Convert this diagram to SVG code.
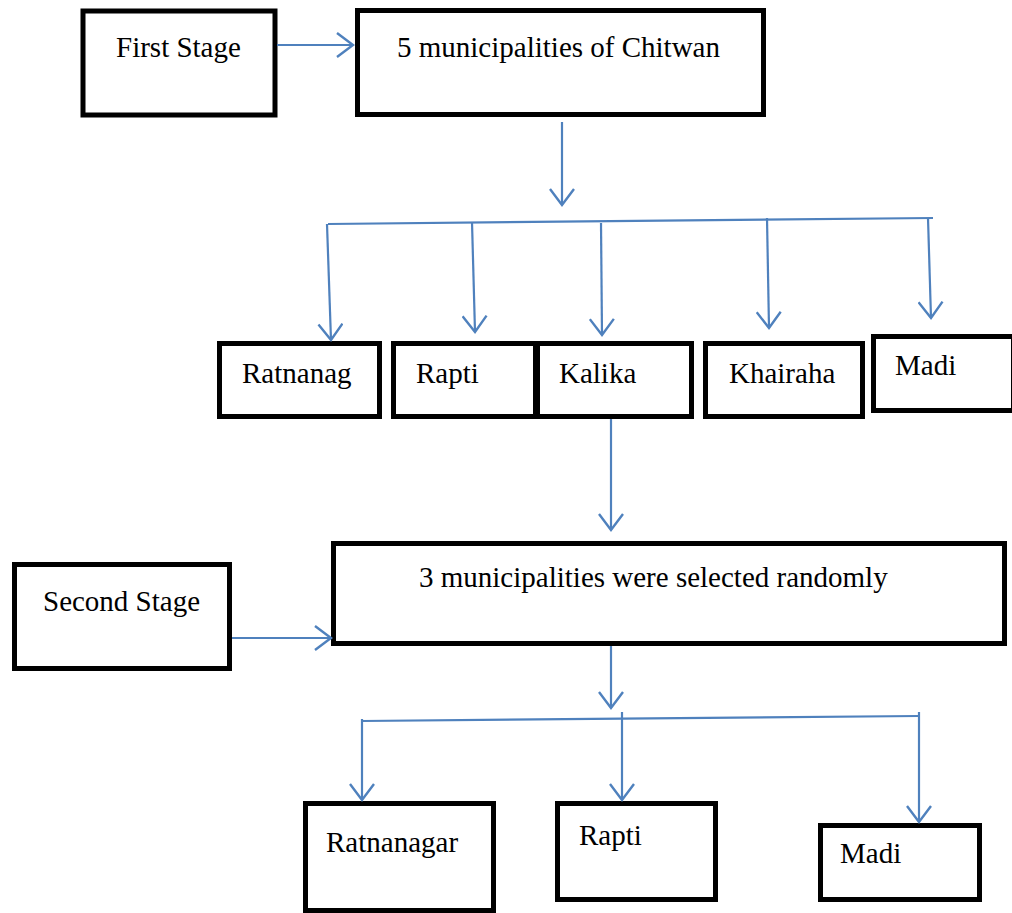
<svg xmlns="http://www.w3.org/2000/svg" width="1012" height="913" viewBox="0 0 1012 913">
<style>
.box{fill:#fff;stroke:#000;stroke-width:5}
.t{font-family:"Liberation Serif","Times New Roman",serif;font-size:29px;fill:#000}
.c{fill:none;stroke:#4F81BD;stroke-width:2.2}
</style>
<defs>
<marker id="ah" markerUnits="userSpaceOnUse" viewBox="0 0 20 26" markerWidth="20" markerHeight="26" refX="18" refY="13" orient="auto">
<path d="M2,1 L18,13 L2,25" fill="none" stroke="#4F81BD" stroke-width="2.4"/>
</marker>
</defs>
<rect width="1012" height="913" fill="#fff"/>
<g id="n-first"><rect class="box" x="83" y="11" width="192" height="104"/><text class="t" x="116" y="57">First Stage</text></g>
<g id="n-five"><rect class="box" x="357.500" y="10.500" width="406" height="104"/><text class="t" x="397" y="57">5 municipalities of Chitwan</text></g>
<g id="n-ratnanag"><rect class="box" x="219.500" y="343.500" width="160" height="73"/><text class="t" x="242" y="383">Ratnanag</text></g>
<g id="n-rapti1"><rect class="box" x="393.500" y="343.500" width="142" height="73"/><text class="t" x="416" y="383">Rapti</text></g>
<g id="n-kalika"><rect class="box" x="537.500" y="343.500" width="154" height="73"/><text class="t" x="559" y="383">Kalika</text></g>
<g id="n-khairaha"><rect class="box" x="705.500" y="343.500" width="157" height="73"/><text class="t" x="729" y="383">Khairaha</text></g>
<g id="n-madi1"><rect class="box" x="873.500" y="336.500" width="140" height="74"/><text class="t" x="895" y="375">Madi</text></g>
<g id="n-second"><rect class="box" x="14.500" y="564.500" width="215" height="104"/><text class="t" x="43" y="611">Second Stage</text></g>
<g id="n-three"><rect class="box" x="333.500" y="543.500" width="671" height="100"/><text class="t" x="419" y="587">3 municipalities were selected randomly</text></g>
<g id="n-ratnanagar"><rect class="box" x="305.500" y="803.500" width="188" height="107"/><text class="t" x="326" y="852">Ratnanagar</text></g>
<g id="n-rapti2"><rect class="box" x="557.500" y="803.500" width="158" height="96"/><text class="t" x="579" y="845">Rapti</text></g>
<g id="n-madi2"><rect class="box" x="820.500" y="825.500" width="159" height="74"/><text class="t" x="840" y="863">Madi</text></g>
<g id="connectors">
<line class="c" x1="277" y1="45" x2="353" y2="45" marker-end="url(#ah)"/>
<line class="c" x1="562" y1="122" x2="562" y2="205" marker-end="url(#ah)"/>
<line class="c" x1="328" y1="224" x2="933" y2="218"/>
<line class="c" x1="327" y1="224" x2="331" y2="340" marker-end="url(#ah)"/>
<line class="c" x1="472" y1="222" x2="475" y2="332" marker-end="url(#ah)"/>
<line class="c" x1="601" y1="223" x2="602" y2="335" marker-end="url(#ah)"/>
<line class="c" x1="767" y1="218" x2="769" y2="328" marker-end="url(#ah)"/>
<line class="c" x1="928" y1="218" x2="931" y2="318" marker-end="url(#ah)"/>
<line class="c" x1="611" y1="419" x2="611" y2="530" marker-end="url(#ah)"/>
<line class="c" x1="232" y1="638" x2="331" y2="638" marker-end="url(#ah)"/>
<line class="c" x1="611" y1="646" x2="611" y2="708" marker-end="url(#ah)"/>
<line class="c" x1="362" y1="721" x2="919" y2="716"/>
<line class="c" x1="362" y1="719" x2="362" y2="800" marker-end="url(#ah)"/>
<line class="c" x1="622" y1="712" x2="622" y2="800" marker-end="url(#ah)"/>
<line class="c" x1="919" y1="712" x2="919" y2="822" marker-end="url(#ah)"/>
</g>
</svg>
